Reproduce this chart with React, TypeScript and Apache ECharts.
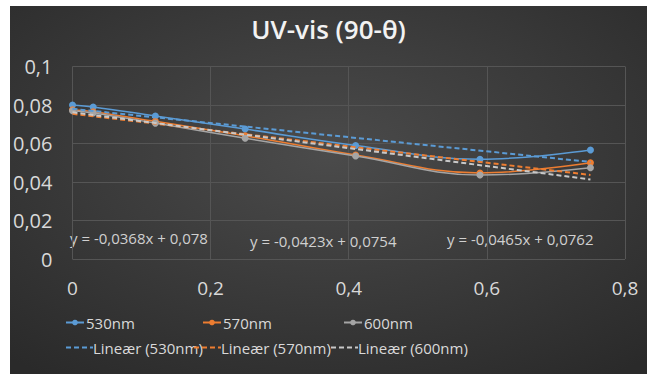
import React, { useEffect, useRef } from "react";
import * as echarts from "echarts";

// Angle values (90-θ) along the x axis
const xValues = [0, 0.03, 0.12, 0.25, 0.41, 0.59, 0.75];

// Absorbance at each wavelength
const abs530 = [0.08, 0.079, 0.0743, 0.0675, 0.059, 0.0518, 0.0566];
const abs570 = [0.0775, 0.0765, 0.0715, 0.064, 0.054, 0.0447, 0.05];
const abs600 = [0.077, 0.0758, 0.0706, 0.0627, 0.0535, 0.0436, 0.0474];

const seriesNames = ["530nm", "570nm", "600nm"];
const trendNames = ["Lineær (530nm)", "Lineær (570nm)", "Lineær (600nm)"];

// Linear trend coefficients y = slope·x + intercept
const trendSlopes = [-0.0368, -0.0423, -0.0465];
const trendIntercepts = [0.078, 0.0754, 0.0762];
const trendRange = [0, 0.75];

const yTicks = [0, 0.02, 0.04, 0.06, 0.08, 0.1];
const xTicks = [0, 0.2, 0.4, 0.6, 0.8];

const COLORS = ["#5b9bd5", "#ed7d31", "#a5a5a5"];
const TREND_COLORS = ["#5b9bd5", "#ed7d31", "#c8c8c8"];
const FONT = "'Open Sans', sans-serif";

const dec = (v: number) => String(v).replace(".", ",");

export default function App() {
  const ref = useRef<HTMLDivElement>(null);

  useEffect(() => {
    if (!ref.current) return;
    const chart = echarts.init(ref.current, undefined, { renderer: "svg" });

    const measured = [abs530, abs570, abs600];

    const dataSeries = measured.map((vals, i) => ({
      name: seriesNames[i],
      type: "line",
      smooth: 0.4,
      data: xValues.map((x, k) => [x, vals[k]]),
      symbol: "circle",
      symbolSize: 7,
      lineStyle: { color: COLORS[i], width: 1.5 },
      itemStyle: { color: COLORS[i] },
      z: 2,
    }));

    const trendSeries = trendSlopes.map((m, i) => ({
      name: trendNames[i],
      type: "line",
      symbol: "none",
      data: trendRange.map((x) => [x, m * x + trendIntercepts[i]]),
      lineStyle: { color: TREND_COLORS[i], width: 2, type: [5, 3] },
      itemStyle: { color: TREND_COLORS[i] },
      z: 3,
    }));

    const legendRow1 = [55, 192, 333];
    const legendRow2 = [55, 183, 320];
    const legendText = { color: "#d9d9d9", fontSize: 15, fontFamily: FONT };

    const legends: any[] = [];
    seriesNames.forEach((n, i) =>
      legends.push({
        data: [n],
        left: legendRow1[i],
        top: 309,
        padding: 0,
        itemWidth: 18,
        itemHeight: 7,
        itemGap: 0,
        textStyle: { ...legendText, padding: [0, 0, 0, -3] },
      })
    );
    trendNames.forEach((n, i) =>
      legends.push({
        data: [n],
        left: legendRow2[i],
        top: 334,
        padding: 0,
        itemWidth: 27,
        itemHeight: 7,
        itemGap: 0,
        itemStyle: { opacity: 0 },
        textStyle: { ...legendText, padding: [0, 0, 0, -5] },
      })
    );

    const eqPositions = [
      [60, 234],
      [240, 237],
      [437, 235],
    ];

    chart.setOption({
      animation: false,
      backgroundColor: {
        type: "radial",
        x: 0.5,
        y: 0.4,
        r: 0.75,
        colorStops: [
          { offset: 0, color: "#4b4b4b" },
          { offset: 1, color: "#2a2a2a" },
        ],
      },
      title: {
        text: "UV-vis (90-θ)",
        left: "center",
        top: 5,
        textStyle: { color: "#f2f2f2", fontSize: 26, fontWeight: 600, fontFamily: FONT },
      },
      legend: legends,
      grid: { left: 62, right: 22, top: 60.5, bottom: 115, containLabel: false },
      xAxis: {
        type: "value",
        min: xTicks[0],
        max: xTicks[xTicks.length - 1],
        interval: xTicks[1] - xTicks[0],
        axisLine: { show: false },
        axisTick: { show: false },
        splitLine: { show: true, lineStyle: { color: "#555555", width: 1 } },
        axisLabel: {
          color: "#d9d9d9",
          fontSize: 19,
          fontFamily: FONT,
          margin: 19,
          formatter: (v: number) => dec(Math.round(v * 10) / 10),
        },
      },
      yAxis: {
        type: "value",
        min: yTicks[0],
        max: yTicks[yTicks.length - 1],
        interval: yTicks[1] - yTicks[0],
        axisLine: { show: false },
        axisTick: { show: false },
        splitLine: { show: true, lineStyle: { color: "#555555", width: 1 } },
        axisLabel: {
          color: "#d9d9d9",
          fontSize: 20,
          fontFamily: FONT,
          margin: 20,
          formatter: (v: number) => dec(Math.round(v * 100) / 100),
        },
      },
      graphic: trendSlopes.map((m, i) => ({
        type: "text",
        left: eqPositions[i][0],
        top: eqPositions[i][1] - 10,
        style: {
          text: `y = ${dec(m)}x + ${dec(trendIntercepts[i])}`,
          fill: "#d0d0d0",
          font: `15px ${FONT}`,
        },
      })),
      series: [...dataSeries, ...trendSeries],
    });

    return () => chart.dispose();
  }, []);

  return (
    <div
      ref={ref}
      style={{ position: "absolute", left: 10, top: 6, width: 637, height: 368 }}
    />
  );
}
